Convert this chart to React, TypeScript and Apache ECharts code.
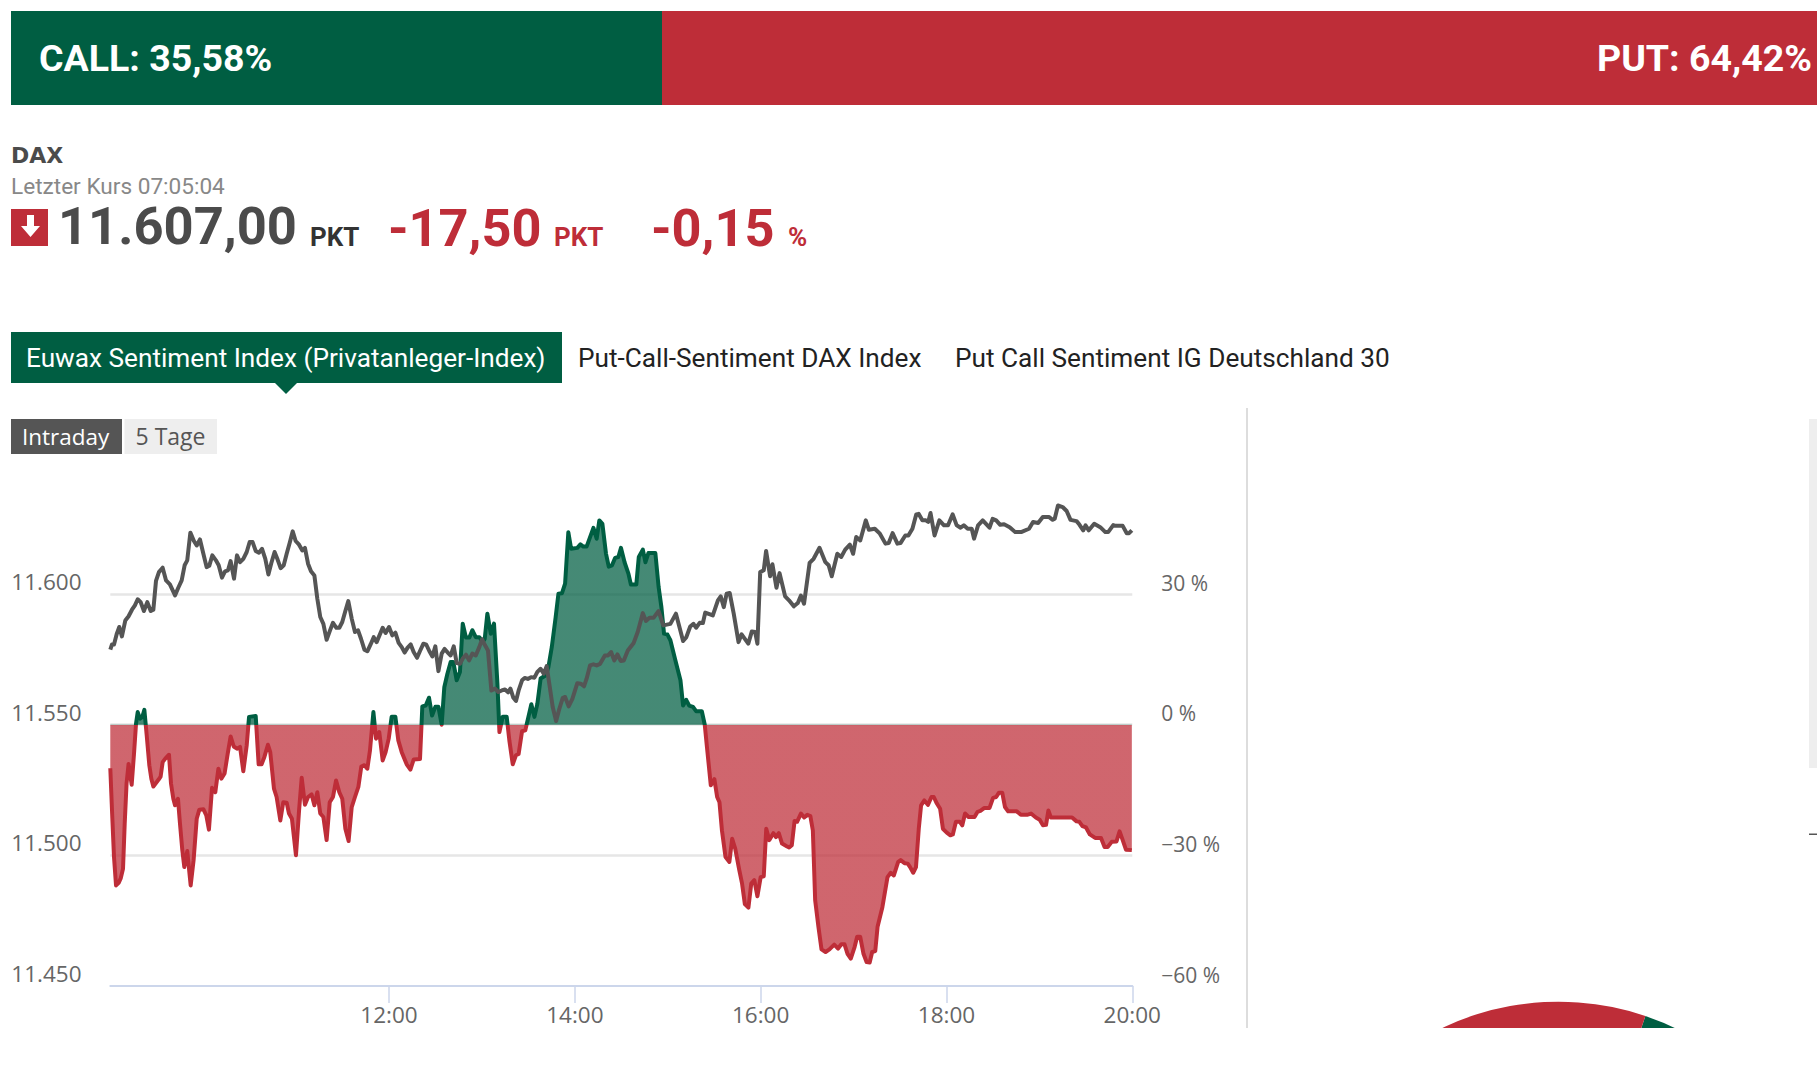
import React, { useEffect, useRef } from "react";
import * as echarts from "echarts";

const callShare = 35.58;
const putShare = 64.42;

// minutes after 09:00
const sentimentMinutes = [0,1.1,2.4,3.7,5.4,6.7,8.2,9.3,10.5,11.8,13.8,15.3,16.6,17.7,19.2,20.7,22,23.5,25.2,26.5,27.8,29.5,31.2,32.5,33.8,35.5,37.9,39.2,40.7,41.8,43.7,45,46.5,47.8,49.7,51.9,53.8,55.8,57.5,60.1,62,63.7,65.7,67.8,69.8,71.7,73.8,75.8,77.7,79.7,81.8,83.8,85.9,88.1,89.6,93.9,95.8,97.7,99.5,101.8,103.3,105.7,107.4,109.8,111.7,113.9,115.4,117.3,119.9,121.9,123.6,125.7,127.7,130,131.8,133.7,135.6,137.6,139.7,141.7,143.8,145.8,147.9,149.8,151.8,153.9,155.9,158,160.2,162.1,164.1,166,167.7,169.9,171.6,173.7,175.9,177.8,179.8,181.7,184.1,186,188.2,191.4,193.8,195.9,200,201.5,203.7,205.8,207.8,209.9,211.9,214,215.7,217.7,219.8,221.5,223.7,225.8,227.6,229.7,231.9,233.8,236,238.3,240.5,241.8,243.5,245.7,247.8,250,251.3,253.4,256,257.7,259.9,262,263.7,265.9,268,271.9,273.9,275.8,277.9,281,282.9,285.1,287.6,289.4,291.7,293.7,295.8,297.6,301.6,303.6,305.5,307.6,312,314.1,315.8,317.8,320.1,321.9,324,326,328.1,329.8,332.1,334.6,336.2,339.7,341.3,343.9,345.6,347.5,352,354.1,355.9,357.6,359.8,361.7,364.7,368.2,369.9,371.9,373.8,376.3,378.3,382,383.9,385.3,387.8,390.1,391.9,393.4,395,397.3,399.8,401.6,403.6,406.2,408,409.8,412.1,413.9,415.9,417.9,420,422,423.6,425.6,428.2,429.9,431.7,433.8,436.8,438.4,440.1,441.9,443.5,446,448.1,450.1,452.1,453.7,455.2,457.3,459.3,461.9,464.4,467.5,470,472.1,474.1,476.1,478.2,480.7,482.3,484.3,486.4,488.4,490.4,492,494,495.5,498.6,501.9,504,506,508.8,510.4,512.9,515,516.5,518.5,520.3,522.1,523.6,525.7,528,530.3,531.8,533.8,535.9,537.7,540.2,542.5,544.1,546.1,548.6,550.2,552,554.3,558.1,560.1,561.9,564.5,567.8,570.1,572.1,573.9,576,577.8,579.8,585.4,588,592,594.6,597.7,600.2,602.3,604.3,605.8,607.4,621.1,624,625.8,627.8,630.1,632.6,636,639.8,642.1,644.1,646.7,649.8,651.8,653.8,655.9,659.7];
const sentimentValues = [-10,-19.7,-30.4,-36.9,-36.3,-35.3,-33.1,-22.7,-13.5,-9,-13.8,-6.7,0.2,2.9,1.4,1.8,3.4,-2.4,-9.3,-12.4,-14.2,-13.4,-12.6,-11.9,-8.6,-7.8,-6.9,-13.5,-17,-18.5,-17,-22.7,-28.8,-32.7,-29,-36.9,-31.1,-21.6,-19.5,-19.4,-20.8,-24.1,-14.5,-15.5,-10.1,-12.4,-11.2,-6.7,-2.7,-5,-5.5,-5.1,-10.7,-4.7,1.8,2,-9.1,-9.1,-7.4,-4.6,-6.3,-14.7,-16.6,-22,-17.8,-17.9,-20.4,-21.6,-30,-19.7,-12.2,-18.4,-16.6,-16,-18.5,-15.5,-20.4,-21.2,-26.5,-17.8,-16.6,-12.8,-15.5,-17,-23.9,-26.7,-18.9,-16.6,-14.3,-9.6,-9.3,-10.1,-5.9,2.9,-3.2,-1.7,-8.2,-6.3,-3.2,1.8,1.8,-3.6,-6.3,-9.1,-10.3,-8,-7.9,4.2,4.4,6.2,2.1,4.1,4.1,0,8.6,11.7,14.4,14.4,10.2,12.1,23.2,20,20,21.7,20.1,20.1,19,19.7,25.5,20.9,23.2,9.4,-1.7,1.8,1.8,-3.6,-9.1,-7,-6.7,-1.5,-1.3,4.7,1.8,4.8,10.6,11.3,13.2,17.8,24.7,30.1,30.2,32.4,44.2,40.4,40.6,41.4,40.9,40.9,45.2,42.7,46.9,46.1,39.3,36.3,36.6,38.3,38.5,40.6,37.3,34.7,32.2,32.2,38.5,40.2,37.3,39.4,39.4,31.6,27,20.9,20.7,19.4,15.1,10.2,4.4,5.7,4.4,4.1,3.1,3.1,0,-5.1,-13.9,-12.5,-16.6,-17.8,-24.3,-30.4,-31.5,-26.2,-28.5,-33.4,-36.5,-41.2,-42,-36.5,-35.7,-39.4,-35,-34.8,-23.9,-26.5,-24.9,-25.8,-24.9,-27.3,-27.9,-28.2,-27.7,-22.1,-22.3,-20.4,-21.3,-20.7,-21,-24.3,-40.3,-46.4,-51.6,-52.2,-51.6,-50.5,-51.4,-50.4,-50.4,-52.6,-53.7,-51,-48.7,-48.7,-52.6,-54.5,-54.6,-52.2,-52,-46.4,-41.9,-35,-34,-34.6,-31.5,-31.1,-31.8,-31.9,-32.7,-34,-32.7,-23.9,-18.5,-17.4,-18.4,-16.6,-16.6,-18.1,-19.3,-23.9,-24.8,-25.4,-25.2,-22.3,-22.3,-23.1,-20.4,-21.2,-21.2,-20,-19.8,-19.1,-19.1,-16.8,-16.6,-15.6,-15.6,-18.9,-19.9,-19.9,-20.7,-20.7,-20.4,-21.3,-21.8,-23.1,-23,-19.7,-21.3,-21.3,-22.2,-22.3,-23.3,-23.6,-25.2,-26,-26,-28.1,-28.1,-26.9,-26.8,-24.5,-26.5,-28.7,-28.8];

const priceMinutes = [0,1.1,2.4,4.1,5.8,7.5,9.7,11.8,14,15.9,17.7,19.6,21.7,23.9,26.1,27.8,29.5,31.4,33.8,36,38.5,41.8,43.9,46.1,48,49.7,51.7,54,55.8,57.9,60.1,62.2,63.9,65.9,68.2,70,72.1,74.1,76,77.7,79.9,81.8,83.8,85.9,88.1,90,91.9,93.9,96,98,100.1,102.1,104,106.1,108.1,110,112,113.9,116,117.8,119.7,121.9,124,125.7,127.7,129.6,131.8,133.7,135.6,137.6,139.7,141.9,143.8,146,147.9,149.8,151.8,153.7,155.9,158,160,161.9,164.1,166,168.1,170.1,172,175.9,177.8,180,182.1,184.1,186.2,188.2,190.1,192,194,195.9,198.1,200,202.2,204.1,206,208,209.9,211.9,214,215.9,217.9,219.8,221.8,223.7,225.8,227.6,229.7,231.7,233.8,236,238.3,240.1,242,243.9,246.1,248.5,250.6,252.8,254.9,256.9,258.4,260.3,262,263.7,265.9,267.6,269.6,271.7,273.9,275.8,277.9,279.9,281.8,283.5,285.7,287.9,290,292.2,293.7,296,298.4,301.6,303.8,305.9,307.6,309.8,312,314.1,316.3,319.4,321.4,323.4,325.5,327.5,329.6,331.6,334.2,338,340.6,343.9,345.9,348.2,350.8,354.1,357.1,361.7,365.3,369.9,372,374.5,376.6,378.3,380.6,382.7,384.2,389.1,392.4,394.2,396.2,398,400,402.6,405.7,407.7,412,414.3,416.4,417.9,419.7,422,423.5,426.1,427.6,430.2,432.2,435.8,438.3,441.4,444,446,448,451.6,454.2,458,461.8,463.9,465.9,469.5,472,474.6,477.6,479.7,481.7,484.3,487.9,489.9,493.7,497,500.6,502.7,505.2,508.3,510.3,513.4,515.4,518,520.5,522,524.4,526.7,528.2,529.7,532.3,535.4,538.4,541,544,546.6,549.1,551.2,553.7,556.3,557.8,560.4,563.4,567.8,569.8,572.1,574.7,577.2,580.8,584.4,588.2,593.3,595.9,599.2,602.2,606.1,608.6,609.9,612,615,617.6,620.1,624,625.7,628.3,629.8,631.9,635.4,639.3,642.6,644.4,647.7,649.5,653.8,656.4,657.9,659.7];
const priceValues = [11578.7,11580.7,11580.7,11584.6,11587.4,11583.8,11589.9,11591.5,11594,11595.7,11598,11596.9,11593.5,11596.9,11593.5,11594,11605,11608.4,11610.1,11605.2,11603.7,11599.5,11602.4,11605.2,11611,11612.9,11623.5,11620.3,11618.6,11620.9,11615.4,11610.3,11610.8,11614.8,11612.9,11611,11606.3,11608.7,11609.1,11612.6,11605.9,11614.8,11612.2,11613.5,11616.1,11619.9,11619.9,11616.5,11615.8,11617.3,11613.5,11607.5,11611.9,11616.1,11613.1,11609.9,11611,11615.4,11619.9,11624,11620.3,11618.9,11616.7,11617.7,11611.6,11608.7,11607.1,11598.2,11591.2,11588.6,11582.5,11586.1,11589,11587.1,11587.1,11589.3,11593.5,11597.3,11590.6,11585.5,11586.1,11582.9,11578.7,11578.1,11580.7,11583.5,11581.6,11587.1,11585.1,11587.4,11584.2,11585.2,11581.3,11579.7,11577.6,11579.5,11580.7,11577.8,11575.6,11578.2,11581,11580.6,11578.2,11576.1,11580,11570.5,11577.2,11579,11577.6,11576.5,11580,11573.6,11573.3,11575.3,11576.8,11574.6,11577.2,11576.5,11579.7,11582.7,11580.4,11578.4,11563.1,11563.8,11562.5,11563.1,11563.5,11562.4,11563.8,11560.3,11559.1,11563.1,11567,11567.9,11567.5,11568.2,11568,11570.2,11571.4,11569.5,11572.4,11565.7,11556.8,11551.4,11556.1,11560.3,11560.6,11557,11559.9,11565.9,11565.7,11564.7,11567.6,11572.7,11573.1,11572.7,11573.3,11576.5,11576.5,11577.8,11574.6,11576.9,11574.4,11574.6,11578.4,11581.3,11585.5,11592.7,11589.7,11590.9,11590.9,11593.5,11588,11588.6,11592.5,11582,11583.5,11587.6,11588.6,11587.1,11589,11588.9,11592.9,11591.8,11597.6,11599.1,11595,11600.1,11600.4,11592.5,11581.6,11584.6,11581,11585.7,11585.5,11581,11608.4,11609.1,11616.5,11606.8,11611.4,11602.4,11608,11599.1,11597.6,11595.3,11596.6,11599.4,11596.3,11611.9,11613.5,11617.7,11612.2,11611,11606.8,11615.4,11614.2,11617,11618.9,11615.4,11621.8,11620.5,11628.2,11624.6,11625,11623.1,11619.3,11619.5,11623.3,11619.3,11619.5,11622.4,11622.4,11625,11630.5,11630.7,11628.2,11628.2,11627.6,11631,11622.4,11628.2,11626.3,11626.3,11630.5,11626.3,11625.4,11626.3,11625,11625,11621.2,11626.3,11628.2,11625.4,11628.8,11628.2,11626.5,11626.7,11625.6,11623.7,11623.7,11625,11627.6,11627.2,11629.5,11629.5,11628.4,11628.8,11633.9,11633.3,11631.8,11628.4,11627.9,11626.7,11624.4,11626.3,11624.4,11626.9,11625.6,11623.7,11623.7,11626.4,11626.1,11626.1,11623.3,11623.3,11624.4];

const timeTicks = [720, 840, 960, 1080, 1200];
const priceLabels: Record<number, string> = { 11450: "11.450", 11500: "11.500", 11550: "11.550", 11600: "11.600" };
const percentLabels: Record<number, string> = { [-60]: "−60 %", [-30]: "−30 %", 0: "0 %", 30: "30 %" };
const tabs = ["Euwax Sentiment Index (Privatanleger-Index)", "Put-Call-Sentiment DAX Index", "Put Call Sentiment IG Deutschland 30"];

const GREEN = "#005e42";
const RED = "#be2d38";
const ROBOTO = "Roboto";
const AXIS_FONT = "Open Sans";

const txt = (text: string, x: number, base: number, size: number, weight: number, fill: string, family = ROBOTO, align = "left") => ({
  type: "text", z: 50, silent: true,
  style: { text, x, y: base - size * 0.355, font: `${weight} ${size}px "${family}"`, fill, textAlign: align, textVerticalAlign: "middle" },
});
const box = (x: number, y: number, width: number, height: number, fill: string, z = 40) => ({
  type: "rect", z, silent: true, shape: { x, y, width, height }, style: { fill },
});

export default function App() {
  const ref = useRef<HTMLDivElement>(null);
  useEffect(() => {
    const chart = echarts.init(ref.current!, null, { renderer: "svg" });
    chart.setOption({
      animation: false,
      backgroundColor: "#fff",
      grid: { left: 110.3, top: 463.4, width: 1022, height: 522.6, containLabel: false },
      xAxis: {
        type: "value", min: 540, max: 1200, splitLine: { show: false },
        axisLine: { show: true, onZero: false, lineStyle: { color: "#ccd6eb", width: 2 } },
        axisTick: { show: true, length: 17, customValues: timeTicks, lineStyle: { color: "#ccd6eb", width: 1.5 } },
        axisLabel: {
          customValues: timeTicks, margin: 16.5, color: "#666", fontFamily: AXIS_FONT, fontSize: 22.5,
          formatter: (v: number) => `${v / 60}:00`,
        },
      },
      yAxis: [
        {
          type: "value", min: 11450, max: 11650, interval: 50, position: "left",
          axisLine: { show: false }, axisTick: { show: false },
          splitLine: { show: true, showMinLine: false, showMaxLine: false, lineStyle: { color: "#e6e6e6", width: 2.5 } },
          axisLabel: {
            align: "left", verticalAlign: "bottom", margin: 99, color: "#666", fontFamily: AXIS_FONT, fontSize: 22.5, padding: [0, 0, 1, 0],
            formatter: (v: number) => priceLabels[v] ?? "",
          },
        },
        {
          type: "value", min: -60, max: 60, interval: 30, position: "right",
          axisLine: { show: false }, axisTick: { show: false }, splitLine: { show: false },
          axisLabel: {
            align: "left", verticalAlign: "bottom", margin: 29, color: "#666", fontFamily: AXIS_FONT, fontSize: 21, padding: [0, 0, 1, 0],
            formatter: (v: number) => percentLabels[v] ?? "",
          },
        },
      ],
      visualMap: {
        show: false, type: "piecewise", seriesIndex: 0, dimension: 1,
        pieces: [{ gt: 0, lte: 60, color: GREEN }, { gt: -60, lte: 0, color: RED }],
      },
      series: [
        {
          type: "line", yAxisIndex: 1, showSymbol: false, silent: true, z: 3,
          lineStyle: { width: 4, join: "round" }, areaStyle: { opacity: 0.73 },
          data: sentimentMinutes.map((m, i) => [540 + m, sentimentValues[i]]),
        },
        {
          type: "line", yAxisIndex: 0, showSymbol: false, silent: true, z: 4,
          lineStyle: { width: 4, color: "#555", join: "round" }, itemStyle: { color: "#555" },
          data: priceMinutes.map((m, i) => [540 + m, priceValues[i]]),
        },
        {
          type: "pie", center: [1558.5, 1272.7], radius: 271, startAngle: 71.3, silent: true, z: 1,
          label: { show: false }, labelLine: { show: false },
          data: [
            { name: "CALL", value: callShare, itemStyle: { color: GREEN } },
            { name: "PUT", value: putShare, itemStyle: { color: RED } },
          ],
        },
      ],
      graphic: {
        elements: [
          box(1100, 1028, 717, 46, "#fff", 30),
          box(1246, 408, 2, 620, "#ddd"),
          box(1809, 419, 8, 349, "#eee"),
          box(1809, 833.5, 8, 1.5, "#555"),
          box(11, 11, 651, 94, GREEN),
          box(662, 11, 1155, 94, RED),
          txt(`CALL: ${String(callShare).replace(".", ",")}%`, 39, 71, 37.5, 700, "#fff"),
          txt(`PUT: ${String(putShare).replace(".", ",")}%`, 1812, 71, 37.5, 700, "#fff", ROBOTO, "right"),
          txt("DAX", 11, 163, 22, 700, "#4b4b4b", "DejaVu Sans"),
          txt("Letzter Kurs 07:05:04", 11, 195, 22.6, 400, "#888"),
          box(11, 209, 37, 37, RED),
          { type: "polygon", z: 45, silent: true, shape: { points: [[27, 215], [34, 215], [34, 226], [40, 226], [30.5, 237], [21, 226], [27, 226]] }, style: { fill: "#fff" } },
          txt("11.607,00", 58, 245, 52.5, 700, "#4b4b4b"),
          txt("PKT", 310, 246, 26, 700, "#333"),
          txt("-17,50", 388, 246.5, 52.3, 700, RED),
          txt("PKT", 554, 246, 26, 700, RED),
          txt("-0,15", 651, 246.5, 52.3, 700, RED),
          txt("%", 788, 246, 26, 700, RED),
          box(11, 332, 551, 51, GREEN),
          { type: "polygon", z: 45, silent: true, shape: { points: [[275, 383], [297, 383], [286, 394]] }, style: { fill: GREEN } },
          txt(tabs[0], 26, 367, 26.2, 400, "#fff"),
          txt(tabs[1], 578, 367, 26.2, 400, "#222"),
          txt(tabs[2], 955, 367, 26.2, 400, "#222"),
          box(11, 419, 111, 35, "#555"),
          box(124.5, 419, 92.5, 35, "#eee"),
          txt("Intraday", 22, 444, 22.5, 400, "#fff", AXIS_FONT),
          txt("5 Tage", 135.5, 444, 23, 400, "#555", AXIS_FONT),
        ],
      },
    });
    return () => chart.dispose();
  }, []);
  return <div ref={ref} style={{ position: "absolute", left: 0, top: 0, width: 1817, height: 1074 }} />;
}
